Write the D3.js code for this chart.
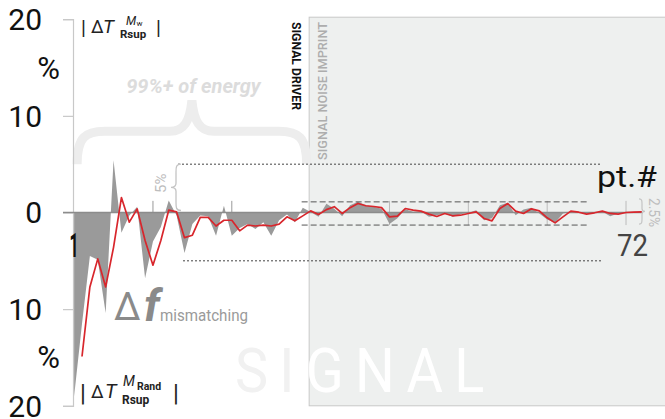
<!DOCTYPE html>
<html><head><meta charset="utf-8">
<script src="https://cdn.jsdelivr.net/npm/d3@7"></script>
<style>
body{margin:0;background:#fff}
svg{display:block}
text{font-family:Roboto,"DejaVu Sans",sans-serif}
</style>
</head><body>
<svg id="c" width="665" height="419"></svg>
<script>
// ---------- data ----------
const pointIndex = d3.range(1, 73);          // pt.# 1..72
const mismatchIndex = d3.range(0, 73);       // gray area samples
const mismatchValues = [
 -19, -11.5, -4.5, -4.9, -10.4, 5.4, -2.1, -0.3, 0.6, -6.8,
 -3.0, -1.5, 1.25, -0.3, -4.2, -1.2, -0.3, -0.4, -2.4, 0.7,
 -2.4, -1.6, -1.2, -1.7, -1.0, -2.4, -0.8, -0.2, -1.0, 0.5,
 0.05, -0.45, 0.9, 0.4, -0.38, 0.76, 1.1, 0.76, 0.6, 0.4,
 -1.2, -0.6, 0.34, 0.07, 0.14, -0.45, -0.28, -0.1, -0.45, -0.17,
 -0.03, 0.24, -0.8, -0.6, 0.76, 1.0, -0.28, 0.3, 0.5, -0.1,
 -0.72, -1.07, -0.1, 0.07, -0.03, -0.1, 0, 0.07, -0.38, -0.1,
 0, 0.03, 0.07];
const randValues = [
 -14.9, -7.7, -4.8, -7.7, -3.6, 1.55, -1.0, 0.37, -2.9, -5.45,
 -2.9, 0.24, 0.06, -2.6, -2.35, -0.5, -0.5, -1.4, -0.8, -0.8,
 -1.9, -1.3, -1.4, -1.3, -1.4, -1.2, -0.45, -0.86, -0.35, 0.17,
 -0.2, 0.3, 0.6, -0.1, 0.5, 0.93, 0.7, 0.62, 0.5, -0.45,
 -0.38, 0.41, 0.24, 0.14, -0.17, -0.41, -0.1, -0.34, -0.28, -0.1,
 0.07, -0.62, -0.86, 0.41, 0.93, 0.14, -0.1, 0.38, 0.17, -0.55,
 -1.07, -0.45, 0.14, 0.03, -0.17, -0.03, 0.14, -0.1, -0.17, 0,
 0.03, 0.07];
const yTicks = [20, 10, 0, -10, -20];
const yTickLabels = ["20", "10", "0", "10", "20"];
const percentAt = [15, -15];
const energyLevels = [5, -5];
const bandLevels = [1.1, -1.3];
const gridPoints = [10, 20, 40, 50, 60, 70];
const noisePanelStart = 30;

// ---------- scales ----------
const svg = d3.select("#c");
const x = d3.scaleLinear().domain([1, 72]).range([82, 641.8]);
const y = d3.scaleLinear().domain([-20, 20]).range([405.8, 19.2]);
const axisX = 73;

// clip for panel
const defs = svg.append("defs");
const panelX = x(noisePanelStart) - 1.5;
defs.append("clipPath").attr("id", "panelClip").attr("clipPathUnits", "userSpaceOnUse")
  .append("rect").attr("x", panelX).attr("y", y(20) - 2).attr("width", 665 - panelX).attr("height", y(-20) - y(20) + 2);

// noise panel
svg.append("rect").attr("x", panelX).attr("y", y(20) - 2)
  .attr("width", 665 - panelX + 5).attr("height", y(-20) - y(20) + 2)
  .attr("fill", "#eef0ef").attr("stroke", "#c8c8c8").attr("stroke-width", 1);

// SIGNAL watermark
function watermark(g, fill) {
  g.append("g").attr("transform", "translate(235,392) scale(0.9,1)")
    .append("text").attr("x", 0).attr("y", 0)
    .attr("font-size", 62).attr("letter-spacing", 12.5).attr("fill", fill)
    .text("SIGNAL");
}
watermark(svg.append("g"), "#f1f1f1");
watermark(svg.append("g").attr("clip-path", "url(#panelClip)"), "#ffffff");

// big energy brace
{
  const L = x(0) + 3, R = x(30) - 4, M = (L + R) / 2;
  const yb = y(5), ya = y(8.4), yt = y(11.6);
  const p = `M${L},${yb} C${L},${ya+6} ${L+8},${ya} ${L+28},${ya} L${M-22},${ya} C${M-8},${ya} ${M-2},${ya-10} ${M},${yt} C${M+2},${ya-10} ${M+8},${ya} ${M+22},${ya} L${R-28},${ya} C${R-8},${ya} ${R},${ya+6} ${R},${yb}`;
  svg.append("path").attr("d", p).attr("fill", "none").attr("stroke", "#ededed").attr("stroke-width", 9);
}
svg.append("text").attr("x", (x(0) + x(30)) / 2 + 1).attr("y", 93).attr("text-anchor", "middle")
  .attr("font-size", 20).attr("font-weight", 700).attr("font-style", "italic").attr("fill", "#dcdcdc")
  .text("99%+ of energy");

// axis
const axis = d3.axisLeft(y).tickValues(yTicks).tickSize(10).tickPadding(21)
  .tickFormat((d, i) => yTickLabels[i]);
const ag = svg.append("g").attr("transform", `translate(${axisX},0)`).call(axis);
ag.select(".domain").attr("stroke", "#c8c8c8").attr("stroke-width", 1.2);
ag.selectAll(".tick line").attr("stroke", "#c8c8c8").attr("stroke-width", 1.2);
ag.selectAll(".tick text").attr("font-size", 30).attr("fill", "#111")
  .attr("font-family", "Roboto, sans-serif").attr("dy", "0.34em");
svg.selectAll(".pct").data(percentAt).join("text")
  .attr("x", 60).attr("y", d => y(d) + 11).attr("text-anchor", "end")
  .attr("font-size", 31).attr("fill", "#111").text("%");

// gridlines
svg.selectAll(".grid").data(gridPoints).join("line")
  .attr("x1", d => x(d)).attr("x2", d => x(d))
  .attr("y1", y(bandLevels[0]) - 1).attr("y2", y(bandLevels[1]))
  .attr("stroke", d => d < noisePanelStart ? "#999" : "#bbb").attr("stroke-width", 1);

// gray mismatch area
const area = d3.area().x((d, i) => x(mismatchIndex[i])).y0(y(0)).y1(d => y(d));
svg.append("path").datum(mismatchValues).attr("d", area).attr("fill", "#9a9a9a");

// zero line
svg.append("line").attr("x1", axisX - 10).attr("x2", x(72)).attr("y1", y(0)).attr("y2", y(0))
  .attr("stroke", "#8c8c8c").attr("stroke-width", 1.6);

// energy dotted lines
svg.selectAll(".elev").data(energyLevels).join("line")
  .attr("x1", (d, i) => i === 0 ? 178 : 183).attr("x2", 601)
  .attr("y1", d => y(d)).attr("y2", d => y(d))
  .attr("stroke", "#444").attr("stroke-width", 1).attr("stroke-dasharray", "2,2");

// noise band dashed lines
svg.selectAll(".band").data(bandLevels).join("line")
  .attr("x1", x(noisePanelStart) - 9).attr("x2", 588)
  .attr("y1", d => y(d)).attr("y2", d => y(d))
  .attr("stroke", "#555").attr("stroke-width", 1).attr("stroke-dasharray", "6,3");

// red line
const line = d3.line().x((d, i) => x(pointIndex[i])).y(d => y(d));
svg.append("path").datum(randValues).attr("d", line)
  .attr("fill", "none").attr("stroke", "#d8262c").attr("stroke-width", 1.7).attr("stroke-linejoin", "round");

// 5% small brace and label
{
  const xb = 171, y0 = y(energyLevels[0]), y1 = y(0) - 2, ym = (y0 + y1) / 2;
  const p = `M${xb+10},${y0} C${xb+5},${y0} ${xb+5},${y0+3} ${xb+5},${y0+8} L${xb+5},${ym-4} C${xb+5},${ym-1} ${xb+3},${ym} ${xb},${ym} C${xb+3},${ym} ${xb+5},${ym+1} ${xb+5},${ym+4} L${xb+5},${y1-8} C${xb+5},${y1-3} ${xb+5},${y1} ${xb+10},${y1}`;
  svg.append("path").attr("d", p).attr("fill", "none").attr("stroke", "#c4c4c4").attr("stroke-width", 1.3);
  svg.append("text").attr("transform", `translate(166,193) rotate(-90)`)
    .attr("font-size", 15).attr("fill", "#bdbdbd").text("5%");
}
// 2.5% brace and label
{
  const xb = 639, y0 = y(bandLevels[0]) - 3, y1 = y(bandLevels[1]) - 1, ym = (y0 + y1) / 2;
  const p = `M${xb},${y0} C${xb+3},${y0} ${xb+3},${y0+2} ${xb+3},${y0+5} L${xb+3},${ym-3} C${xb+3},${ym-1} ${xb+4},${ym} ${xb+6},${ym} C${xb+4},${ym} ${xb+3},${ym+1} ${xb+3},${ym+3} L${xb+3},${y1-5} C${xb+3},${y1-2} ${xb+3},${y1} ${xb},${y1}`;
  svg.append("path").attr("d", p).attr("fill", "none").attr("stroke", "#c4c4c4").attr("stroke-width", 1.2);
  svg.append("text").attr("transform", `translate(649,198) rotate(90)`)
    .attr("font-size", 14).attr("fill", "#bdbdbd").attr("textLength", 29).attr("lengthAdjust", "spacingAndGlyphs").text("2.5%");
}

// section titles
svg.append("text").attr("transform", "translate(292,22) rotate(90)")
  .attr("font-size", 13.5).attr("font-weight", 700).attr("fill", "#111")
  .attr("textLength", 88).attr("lengthAdjust", "spacingAndGlyphs").text("SIGNAL DRIVER");
svg.append("text").attr("transform", "translate(327,160) rotate(-90)")
  .attr("font-size", 13.5).attr("font-weight", 500).attr("fill", "#adadad")
  .attr("textLength", 138).attr("lengthAdjust", "spacingAndGlyphs").text("SIGNAL NOISE IMPRINT");

// point labels
svg.append("text").attr("x", 74).attr("y", 257).attr("text-anchor", "middle")
  .attr("font-size", 33).attr("font-weight", 700).attr("fill", "#111")
  .attr("textLength", 9).attr("lengthAdjust", "spacingAndGlyphs").text(pointIndex[0]);
svg.append("text").attr("x", 617).attr("y", 256)
  .attr("font-size", 32).attr("fill", "#444")
  .attr("textLength", 31).attr("lengthAdjust", "spacingAndGlyphs").text(pointIndex[pointIndex.length - 1]);
svg.append("text").attr("x", 597).attr("y", 187)
  .attr("font-size", 29).attr("fill", "#111")
  .attr("textLength", 60).attr("lengthAdjust", "spacingAndGlyphs").text("pt.#");

// Δf mismatching
svg.append("text").attr("x", 114).attr("y", 320).attr("font-size", 38).attr("fill", "#8a8a8a").text("Δ");
svg.append("text").attr("x", 144).attr("y", 321).attr("font-size", 45).attr("font-weight", 700)
  .attr("font-style", "italic").attr("fill", "#8a8a8a").text("f");
svg.append("text").attr("x", 160).attr("y", 321).attr("font-size", 17).attr("fill", "#9a9a9a")
  .attr("textLength", 88).attr("lengthAdjust", "spacingAndGlyphs").text("mismatching");

// legends
function t(xp, yp, s, size, opts = {}) {
  const e = svg.append("text").attr("x", xp).attr("y", yp).attr("font-size", size).attr("fill", "#222").text(s);
  if (opts.bold) e.attr("font-weight", 700);
  if (opts.italic) e.attr("font-style", "italic");
  return e;
}
// top |ΔT^{Mw}_{Rsup}|
t(81, 35, "|", 20);
t(91, 33, "Δ", 18);
t(103, 33, "T", 19, {italic: true});
t(126, 24.5, "M", 12, {italic: true});
t(136.5, 26, "w", 8);
t(120, 37.5, "Rsup", 11.5, {bold: true});
t(156, 35, "|", 20);

// bottom |ΔT^{MRand}_{Rsup}|
t(80, 401, "|", 24);
t(91, 398, "Δ", 18);
t(105, 398, "T", 20, {italic: true});
t(123, 386, "M", 14, {italic: true});
t(137, 390, "Rand", 10.5, {bold: true});
t(122, 404, "Rsup", 12, {bold: true});
t(173, 401, "|", 24);
</script>
</body></html>
